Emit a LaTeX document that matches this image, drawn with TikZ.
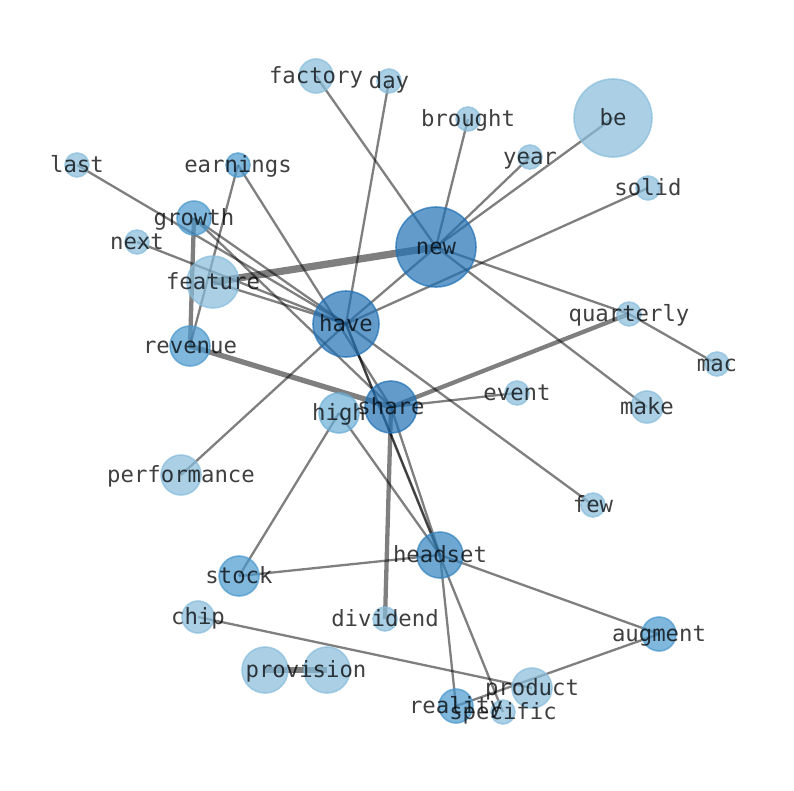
\documentclass[tikz,border=0pt]{standalone}
\usepackage{fontspec}
\newfontfamily\lblfont{DejaVu Sans Mono}
\definecolor{cdark}{HTML}{2171B5}
\definecolor{chead}{HTML}{3182BD}
\definecolor{cmed}{HTML}{4A98CD}
\definecolor{chigh}{HTML}{6AAED6}
\definecolor{clight}{HTML}{87BCDB}
\tikzset{
  nd/.style={circle, inner sep=0pt, minimum size=#1, fill opacity=0.7, draw opacity=0.7, line width=1.6pt},
  dark/.style={fill=cdark, draw=cdark},
  headc/.style={fill=chead, draw=chead},
  med/.style={fill=cmed, draw=cmed},
  highc/.style={fill=chigh, draw=chigh},
  light/.style={fill=clight, draw=clight},
  edge/.style={draw=black, draw opacity=0.5, line width=2.3pt},
  edgeb/.style={edge, line width=4.3pt},
  edgec/.style={edge, line width=5.3pt},
  edged/.style={edge, line width=7.3pt},
  lbl/.style={font=\lblfont\fontsize{22.3}{26}\selectfont, text=black, text opacity=0.75, inner sep=0pt, text height=16pt, text depth=6pt, anchor=center, yshift=-2pt}
}
\begin{document}
\begin{tikzpicture}[x=1pt,y=-1pt]
\useasboundingbox (0,0) rectangle (794,790);
% positions
\coordinate (factory) at (316,76);
\coordinate (day) at (389,81);
\coordinate (brought) at (468,119);
\coordinate (be) at (613,118);
\coordinate (year) at (530,157);
\coordinate (solid) at (648,188);
\coordinate (last) at (77,165);
\coordinate (earnings) at (238,165);
\coordinate (growth) at (194,218);
\coordinate (next) at (137,242);
\coordinate (feature) at (213,282);
\coordinate (new) at (436,247);
\coordinate (have) at (346,324);
\coordinate (revenue) at (190,346);
\coordinate (quarterly) at (629,314);
\coordinate (mac) at (717,364);
\coordinate (event) at (517,393);
\coordinate (make) at (647,407);
\coordinate (share) at (391,407);
\coordinate (high) at (339,413);
\coordinate (performance) at (181,475);
\coordinate (few) at (593,505);
\coordinate (headset) at (440,555);
\coordinate (stock) at (239,576);
\coordinate (chip) at (198,617);
\coordinate (dividend) at (385,619);
\coordinate (augment) at (659,634);
\coordinate (provA) at (265,670);
\coordinate (provB) at (327,670);
\coordinate (provL) at (306,670);
\coordinate (product) at (532,688);
\coordinate (reality) at (456,706);
\coordinate (specific) at (503,712);
% edges
\draw[edge] (new) -- (factory);
\draw[edge] (have) -- (day);
\draw[edge] (new) -- (brought);
\draw[edge] (new) -- (be);
\draw[edge] (new) -- (year);
\draw[edge] (have) -- (solid);
\draw[edge] (new) -- (have);
\draw[edged] (feature) -- (new);
\draw[edge] (new) -- (quarterly);
\draw[edge] (quarterly) -- (mac);
\draw[edge] (new) -- (make);
\draw[edgeb] (share) -- (quarterly);
\draw[edge] (share) -- (event);
\draw[edge] (have) -- (few);
\draw[edge] (last) -- (have);
\draw[edge] (next) -- (have);
\draw[edge] (feature) -- (have);
\draw[edge] (growth) -- (have);
\draw[edge] (growth) -- (share);
\draw[edge] (earnings) -- (share);
\draw[edge] (earnings) -- (revenue);
\draw[edgeb] (growth) -- (revenue);
\draw[edgec] (revenue) -- (share);
\draw[edge] (have) -- (performance);
\draw[edge] (high) -- (stock);
\draw[edge] (high) -- (headset);
\draw[edge] (stock) -- (headset);
\draw[edgeb] (share) -- (dividend);
\draw[edge] (share) -- (headset);
\draw[edge] (have) -- (headset);
\draw[edge] (have) -- (specific);
\draw[edge] (headset) -- (reality);
\draw[edge] (headset) -- (augment);
\draw[edge] (augment) -- (reality);
\draw[edge] (chip) -- (product);
\draw[edgec] (provA) -- (provB);
% circles
\node[nd=34pt, light] (factory-c) at (factory) {};
\node[nd=24pt, light] (day-c) at (day) {};
\node[nd=24pt, light] (brought-c) at (brought) {};
\node[nd=78pt, light] (be-c) at (be) {};
\node[nd=24pt, light] (year-c) at (year) {};
\node[nd=24pt, light] (solid-c) at (solid) {};
\node[nd=24pt, light] (last-c) at (last) {};
\node[nd=24pt, med] (earnings-c) at (earnings) {};
\node[nd=34pt, med] (growth-c) at (growth) {};
\node[nd=24pt, light] (next-c) at (next) {};
\node[nd=52pt, light] (feature-c) at (feature) {};
\node[nd=80pt, dark] (new-c) at (new) {};
\node[nd=66pt, dark] (have-c) at (have) {};
\node[nd=40pt, med] (revenue-c) at (revenue) {};
\node[nd=24pt, light] (quarterly-c) at (quarterly) {};
\node[nd=24pt, light] (mac-c) at (mac) {};
\node[nd=24pt, light] (event-c) at (event) {};
\node[nd=32pt, light] (make-c) at (make) {};
\node[nd=52pt, dark] (share-c) at (share) {};
\node[nd=40pt, highc] (high-c) at (high) {};
\node[nd=40pt, light] (performance-c) at (performance) {};
\node[nd=24pt, light] (few-c) at (few) {};
\node[nd=46pt, headc] (headset-c) at (headset) {};
\node[nd=40pt, med] (stock-c) at (stock) {};
\node[nd=32pt, light] (chip-c) at (chip) {};
\node[nd=24pt, light] (dividend-c) at (dividend) {};
\node[nd=34pt, med] (augment-c) at (augment) {};
\node[nd=46pt, light] (provA-c) at (provA) {};
\node[nd=46pt, light] (provB-c) at (provB) {};
\node[nd=40pt, light] (product-c) at (product) {};
\node[nd=34pt, med] (reality-c) at (reality) {};
\node[nd=24pt, light] (specific-c) at (specific) {};
% labels
\node[lbl] (factory-l) at (factory) {factory};
\node[lbl] (day-l) at (day) {day};
\node[lbl] (brought-l) at (brought) {brought};
\node[lbl] (be-l) at (be) {be};
\node[lbl] (year-l) at (year) {year};
\node[lbl] (solid-l) at (solid) {solid};
\node[lbl] (last-l) at (last) {last};
\node[lbl] (earnings-l) at (earnings) {earnings};
\node[lbl] (growth-l) at (growth) {growth};
\node[lbl] (next-l) at (next) {next};
\node[lbl] (feature-l) at (feature) {feature};
\node[lbl] (new-l) at (new) {new};
\node[lbl] (have-l) at (have) {have};
\node[lbl] (revenue-l) at (revenue) {revenue};
\node[lbl] (quarterly-l) at (quarterly) {quarterly};
\node[lbl] (mac-l) at (mac) {mac};
\node[lbl] (event-l) at (event) {event};
\node[lbl] (make-l) at (make) {make};
\node[lbl] (share-l) at (share) {share};
\node[lbl] (high-l) at (high) {high};
\node[lbl] (performance-l) at (performance) {performance};
\node[lbl] (few-l) at (few) {few};
\node[lbl] (headset-l) at (headset) {headset};
\node[lbl] (stock-l) at (stock) {stock};
\node[lbl] (chip-l) at (chip) {chip};
\node[lbl] (dividend-l) at (dividend) {dividend};
\node[lbl] (augment-l) at (augment) {augment};
\node[lbl] (provision-l) at (provL) {provision};
\node[lbl] (product-l) at (product) {product};
\node[lbl] (reality-l) at (reality) {reality};
\node[lbl] (specific-l) at (specific) {specific};
\end{tikzpicture}
\end{document}
